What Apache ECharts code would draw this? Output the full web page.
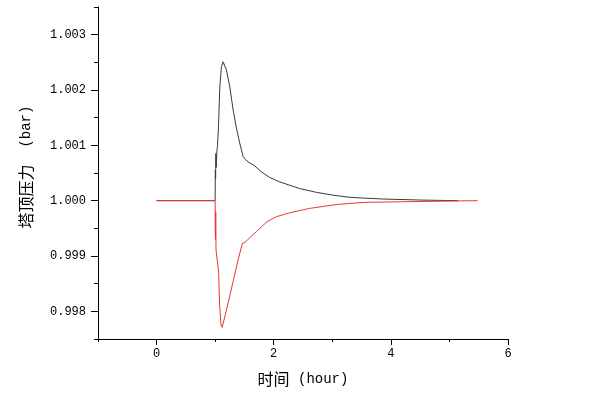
<!DOCTYPE html>
<html><head><meta charset="utf-8">
<script src="https://cdn.jsdelivr.net/npm/echarts@6/dist/echarts.min.js"></script>
<style>html,body{margin:0;padding:0;background:#fff}#c{width:589px;height:405px}</style>
</head><body><div id="c"></div>
<script>
// Upper (black) response: time (hour) and top pressure (bar)
const upperTime = [0, 1.0, 1.003, 1.008, 1.012, 1.018, 1.03, 1.04, 1.057, 1.08, 1.108, 1.136, 1.165, 1.193, 1.25, 1.307, 1.364, 1.42, 1.477, 1.52, 1.563, 1.676, 1.79, 1.93, 2.10, 2.27, 2.44, 2.73, 3.01, 3.30, 3.86, 4.55, 5.15];
const upperValue = [1.0, 1.0, 1.00055, 1.0004, 1.00085, 1.0006, 1.0009, 1.00098, 1.00134, 1.00206, 1.00242, 1.00251, 1.00249, 1.00236, 1.00206, 1.00164, 1.00131, 1.00104, 1.0008, 1.00074, 1.0007, 1.00063, 1.00052, 1.00042, 1.00034, 1.00028, 1.00022, 1.00015, 1.0001, 1.00006, 1.00003, 1.00001, 1.0];
// Lower (red) response
const lowerTime = [0, 1.0, 1.002, 1.006, 1.01, 1.015, 1.04, 1.06, 1.075, 1.10, 1.12, 1.14, 1.222, 1.307, 1.392, 1.466, 1.505, 1.60, 1.704, 1.886, 2.045, 2.27, 2.61, 3.07, 3.30, 3.58, 4.15, 4.8, 5.48];
const lowerValue = [1.0, 1.0, 0.99944, 0.99930, 0.9998, 0.99911, 0.99912, 0.9987, 0.99815, 0.99775, 0.99771, 0.99773, 0.99815, 0.99854, 0.99893, 0.99923, 0.99924, 0.99934, 0.99944, 0.99962, 0.99971, 0.99978, 0.99986, 0.99993, 0.99995, 0.99997, 0.99998, 0.99999, 1.0];
// Tick labels
const xTickLabels = ['0', '2', '4', '6'];
const yTickLabels = ['0.998', '0.999', '1.000', '1.001', '1.002', '1.003'];

const xNameCjk = '时间', xNameUnit = ' (hour)';
const yNameCjk = '塔顶压力', yNameUnit = '  (bar)';

const font = "'Liberation Mono', 'Noto Sans CJK SC', monospace";
const nameFont = "'Noto Sans CJK SC', sans-serif";
const axisColor = '#000';

const nameRich = {
  c: {fontFamily: nameFont, fontSize: 16, color: '#000'},
  u: {fontFamily: "'Liberation Mono', monospace", fontSize: 14, color: '#000'}
};

const chart = echarts.init(document.getElementById('c'), null, {renderer: 'canvas'});
const unitX = 410 / 7;
const unitY = 332 / 6; // per 0.001
const hidden = {show: false};
chart.setOption({
  animation: false,
  backgroundColor: '#fff',
  grid: [
    {left: 98, right: 81, top: 7, bottom: 66},
    {left: 98, right: 81, top: 7 + unitY / 2, bottom: 66 + unitY / 2},
    {left: 98 + unitX, right: 81, top: 7, bottom: 66}
  ],
  xAxis: [
    {
      type: 'value', gridIndex: 0, min: -1, max: 6, interval: 1,
      name: '{c|' + xNameCjk + '}{u|' + xNameUnit + '}', nameLocation: 'middle', nameGap: 32,
      nameTextStyle: {rich: nameRich},
      axisLine: {show: true, onZero: false, lineStyle: {color: axisColor, width: 1}},
      axisTick: {show: true, length: 3, lineStyle: {color: axisColor}},
      axisLabel: {show: false},
      splitLine: {show: false}
    },
    {type: 'value', gridIndex: 1, min: 0, max: 1, axisLine: hidden, axisTick: hidden, axisLabel: hidden, splitLine: hidden},
    {
      type: 'value', gridIndex: 2, min: 0, max: 6, interval: 2,
      axisLine: {show: false, onZero: false},
      axisTick: {show: true, length: 6, lineStyle: {color: axisColor}},
      axisLabel: {show: true, margin: 9, fontFamily: font, fontSize: 12, color: '#000',
        formatter: (v) => xTickLabels[Math.round(v / 2)]},
      splitLine: {show: false}
    }
  ],
  yAxis: [
    {
      type: 'value', gridIndex: 0, min: 0.9975, max: 1.0035, interval: 0.0005,
      name: '{c|' + yNameCjk + '}{u|' + yNameUnit + '}', nameLocation: 'middle', nameGap: 64, nameRotate: 90,
      nameTextStyle: {rich: nameRich, padding: [0, 0, 0, 12]},
      axisLine: {show: true, onZero: false, lineStyle: {color: axisColor, width: 1}},
      axisTick: {show: true, length: 4, lineStyle: {color: axisColor}},
      axisLabel: {show: false},
      splitLine: {show: false}
    },
    {
      type: 'value', gridIndex: 1, min: 0.998, max: 1.003, interval: 0.001,
      axisLine: {show: false, onZero: false},
      axisTick: {show: true, length: 7, lineStyle: {color: axisColor}},
      axisLabel: {show: true, margin: 12, fontFamily: font, fontSize: 12, color: '#000',
        formatter: (v) => yTickLabels[Math.round((v - 0.998) / 0.001)]},
      splitLine: {show: false}
    },
    {type: 'value', gridIndex: 2, min: 0, max: 1, axisLine: hidden, axisTick: hidden, axisLabel: hidden, splitLine: hidden}
  ],
  series: [
    {
      type: 'line', xAxisIndex: 0, yAxisIndex: 0, showSymbol: false, symbol: 'none',
      data: upperTime.map((t, i) => [t, upperValue[i]]),
      lineStyle: {color: '#3a3a3a', width: 1}, z: 2
    },
    {
      type: 'line', xAxisIndex: 0, yAxisIndex: 0, showSymbol: false, symbol: 'none',
      data: lowerTime.map((t, i) => [t, lowerValue[i]]),
      lineStyle: {color: '#ee3333', width: 1}, z: 3
    }
  ]
});
</script></body></html>
